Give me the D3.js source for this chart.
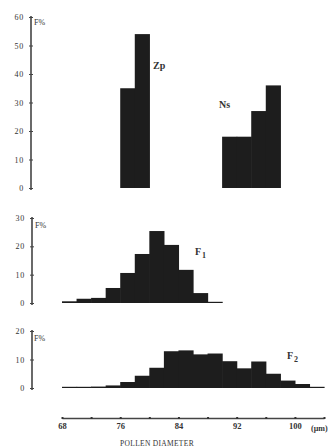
<!DOCTYPE html>
<html>
<head>
<meta charset="utf-8">
<script src="https://cdn.jsdelivr.net/npm/d3@7"></script>
<style>
  body { margin: 0; background: #fff; }
  svg { display: block; }
  text { font-family: "Liberation Serif", "DejaVu Serif", serif; fill: #333; }
</style>
</head>
<body>
<svg id="chart" width="333" height="447"></svg>
<script>
// Pollen diameter classes (left edge of each 2 µm bin) and frequencies in %
var zpBins = [76, 78];
var zpValues = [35, 54];

var nsBins = [90, 92, 94, 96];
var nsValues = [18, 18, 27, 36];

var f1Bins = [68, 70, 72, 74, 76, 78, 80, 82, 84, 86, 88];
var f1Values = [0.6, 1.5, 1.8, 5.3, 10.6, 17.3, 25.4, 20.5, 11.7, 3.5, 0.4];

var f2Bins = [68, 70, 72, 74, 76, 78, 80, 82, 84, 86, 88, 90, 92, 94, 96, 98, 100, 102];
var f2Values = [0.3, 0.3, 0.5, 0.9, 2.1, 4.3, 7.1, 12.9, 13.2, 11.8, 12.1, 9.4, 6.9, 9.3, 5.0, 2.6, 1.4, 0.4];

var binWidth = 2;

// Axis ticks
var topTicks = [0, 10, 20, 30, 40, 50, 60];
var f1Ticks = [0, 10, 20, 30];
var f2Ticks = [0, 10, 20];
var xTicks = [68, 72, 76, 80, 84, 88, 92, 96, 100, 104];
var xLabels = [68, 76, 84, 92, 100];

var svg = d3.select('#chart');
var barColor = '#1d1d1d';

// Shared x scale
var x = d3.scaleLinear().domain([68, 104]).range([62, 324]);

// Histogram bars of one series on a given y scale
// (a small overlap so neighbouring bars merge into one block, min 1px so the flat tails show)
function drawBars(bins, values, yScale) {
    svg.append('g')
      .selectAll('rect')
      .data(bins)
      .enter().append('rect')
        .attr('x', function(d) { return x(d); })
        .attr('width', function(d) { return x(d + binWidth) - x(d) + 0.6; })
        .attr('y', function(d, i) { return Math.min(yScale(values[i]), yScale(0) - 1.2); })
        .attr('height', function(d, i) { return Math.max(yScale(0) - yScale(values[i]), 1.2); })
        .attr('fill', barColor);
}

// Left frequency axis, line drawn between axisTop and axisBottom
function drawYAxis(yScale, ticks, axisX, axisTop, axisBottom) {
    var ax = svg.append('g')
        .attr('transform', 'translate(' + axisX + ',0)')
        .call(d3.axisLeft(yScale)
            .tickValues(ticks)
            .tickSizeInner(2)
            .tickSizeOuter(0)
            .tickPadding(5));
    ax.select('.domain')
        .attr('d', 'M0,' + axisTop + 'V' + axisBottom)
        .attr('stroke', '#444')
        .attr('stroke-width', 1.6);
    ax.selectAll('.tick line').attr('stroke', '#444').attr('x1', -2).attr('x2', 2);
    ax.selectAll('.tick text')
        .style('font-family', '"Liberation Serif", serif')
        .style('font-size', '8px')
        .style('letter-spacing', '0.8px')
        .attr('fill', '#444');
}

var yTop = d3.scaleLinear().domain([0, 60]).range([188, 17]);
var yF1 = d3.scaleLinear().domain([0, 30]).range([303, 218]);
var yF2 = d3.scaleLinear().domain([0, 20]).range([388, 331]);

drawBars(zpBins, zpValues, yTop);
drawBars(nsBins, nsValues, yTop);
drawYAxis(yTop, topTicks, 31, 16, 190);

drawBars(f1Bins, f1Values, yF1);
drawYAxis(yF1, f1Ticks, 32, 217, 305);

drawBars(f2Bins, f2Values, yF2);
drawYAxis(yF2, f2Ticks, 32, 330, 390);

// "F%" unit labels next to each y axis
[[34, 25], [35, 228], [34, 341]].forEach(function(p) {
    svg.append('text')
        .attr('x', p[0]).attr('y', p[1])
        .style('font-size', '8px')
        .attr('fill', '#333')
        .text('F%');
});

// series labels
function seriesLabel(xp, yp, main, sub) {
    var t = svg.append('text')
        .attr('x', xp).attr('y', yp)
        .style('font-size', '10px')
        .style('font-weight', 'bold')
        .attr('fill', '#222')
        .text(main);
    if (sub) {
        t.append('tspan')
            .attr('dy', 3)
            .attr('dx', 1)
            .style('font-size', '8px')
            .text(sub);
    }
}
seriesLabel(153, 69, 'Zp');
seriesLabel(219, 108, 'Ns');
seriesLabel(195, 255, 'F', '1');
seriesLabel(287, 359, 'F', '2');

// bottom diameter axis
var xAxis = svg.append('g')
    .attr('transform', 'translate(0,418)')
    .call(d3.axisBottom(x)
        .tickValues(xTicks)
        .tickSizeInner(2)
        .tickSizeOuter(0)
        .tickPadding(3)
        .tickFormat(function(d) { return xLabels.indexOf(d) >= 0 ? d : ''; }));
xAxis.select('.domain').attr('stroke', '#444').attr('stroke-width', 1.4);
xAxis.selectAll('.tick line').attr('stroke', '#333').attr('stroke-width', 2).attr('y1', -1).attr('y2', 1);
xAxis.selectAll('.tick text')
    .style('font-family', '"Liberation Serif", serif')
    .style('font-size', '8.5px')
    .style('font-weight', 'bold')
    .attr('fill', '#333');

svg.append('text')
    .attr('x', 311).attr('y', 431)
    .style('font-size', '8px')
    .style('font-weight', 'bold')
    .text('(µm)');

svg.append('text')
    .attr('x', 157).attr('y', 446)
    .attr('text-anchor', 'middle')
    .style('font-size', '7.5px')
    .style('letter-spacing', '0.3px')
    .text('POLLEN DIAMETER');
</script>
</body>
</html>
